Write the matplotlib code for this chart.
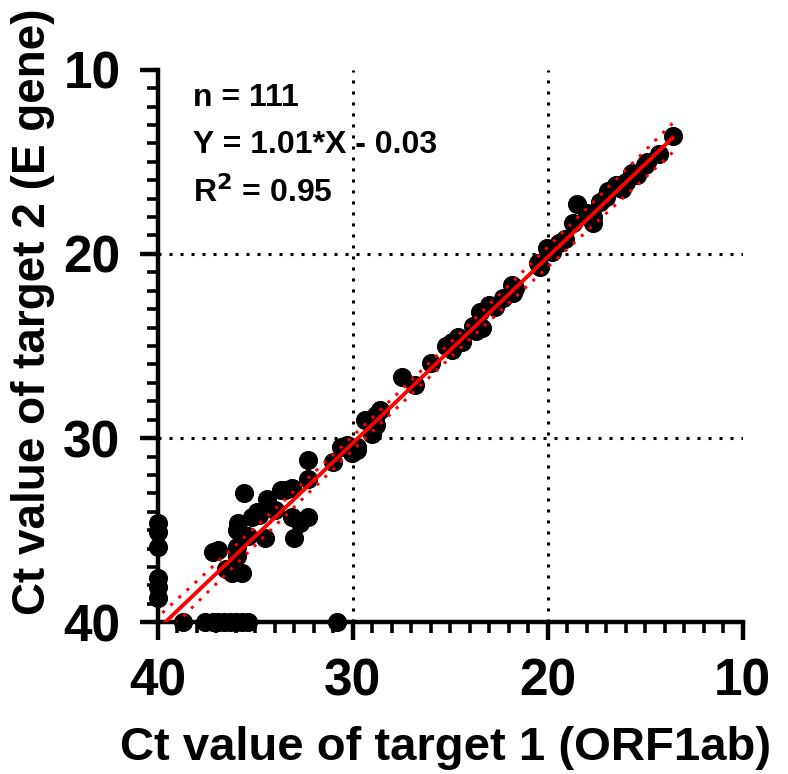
import numpy as np
from matplotlib import pyplot as plt
from matplotlib.ticker import MultipleLocator

plt.rcParams['font.family'] = ['Liberation Sans', 'DejaVu Sans']
plt.rcParams['font.weight'] = 'bold'

# Ct values (target 1 = ORF1ab, target 2 = E gene)
ct_orf1ab = [40, 40, 40, 40, 40, 40,
             38.7, 37.6, 37.2, 36.9, 36.6, 36.3, 36.0, 35.7, 35.4, 30.8,
             37.2, 36.9, 36.5, 36.2, 35.7, 35.95, 35.95, 35.9, 35.95, 35.4,
             35.6, 35.2, 34.8, 34.5, 34.4, 34.3, 33.7, 33.5, 33.1, 33.1,
             32.7, 32.3, 33.0, 32.3, 32.3, 30.6, 30.05, 29.8,
             30.3, 29.8, 29.4, 28.8, 28.8, 29.0, 27.5, 26.8, 26.0,
             24.9, 24.4, 24.9, 23.85, 23.4, 23.7, 23.5, 23.0, 22.7,
             21.85, 21.8, 21.7, 20.4, 20.5, 20.05, 19.4, 19.1,
             18.7, 18.5, 18.0, 17.7, 17.7, 17.3, 16.9, 16.5, 16.2,
             15.7, 15.4, 15.0, 14.9, 14.3, 13.6,
             34.9, 34.0, 31.0, 28.6, 25.2, 24.6, 22.3, 19.8, 17.0, 16.0]
ct_egene = [34.6, 35.1, 35.9, 37.6, 38.1, 38.7,
            40, 40, 40, 40, 40, 40, 40, 40, 40, 40,
            36.2, 36.1, 37.1, 37.3, 37.3, 35.9, 36.4, 34.6, 35.0, 35.3,
            33.0, 34.3, 34.2, 35.4, 33.3, 33.75, 32.8, 32.8, 32.7, 34.3,
            34.6, 34.3, 35.4, 31.2, 32.2, 30.5, 30.8, 30.65,
            30.4, 30.5, 29.0, 28.75, 29.3, 29.8, 26.7, 27.1, 25.9,
            24.8, 24.8, 25.2, 23.9, 24.0, 24.2, 23.15, 22.8, 22.9,
            21.7, 22.1, 21.85, 20.7, 20.5, 19.7, 19.4, 19.2,
            18.3, 17.3, 17.8, 18.3, 18.0, 17.2, 16.6, 16.25, 16.5,
            15.6, 15.7, 15.2, 15.0, 14.6, 13.6,
            34.0, 33.9, 31.3, 28.5, 25.0, 24.5, 22.4, 19.9, 16.9, 16.1]

slope, intercept = 1.01, -0.03
annot_lines = ["n = 111", "Y = 1.01*X - 0.03", r"R$^\mathbf{2}$ = 0.95"]

x = np.array(ct_orf1ab)
y = np.array(ct_egene)

fig = plt.figure(figsize=(7.88, 7.74), dpi=100)
ax = fig.add_axes([0.2005, 0.196, 0.742, 0.714])

# dotted reference grid
for v in (30, 20):
    ax.axvline(v, color='black', ls=(0, (1, 2.6)), lw=2.2, zorder=1)
    ax.axhline(v, color='black', ls=(0, (1, 2.6)), lw=2.2, zorder=1)

ax.scatter(x, y, s=190, color='black', zorder=3, clip_on=False, linewidths=0)

# regression line + 95% confidence band
xs = np.linspace(x.min(), x.max(), 200)
fit = slope * xs + intercept
resid = y - (slope * x + intercept)
n = len(x)
s_err = np.sqrt(np.sum(resid ** 2) / (n - 2))
ci = 1.98 * s_err * np.sqrt(1 / n + (xs - x.mean()) ** 2 / np.sum((x - x.mean()) ** 2))
ax.plot(xs, fit, color='red', lw=2.8, zorder=4)
ax.plot(xs, fit + ci, color='red', ls=(0, (1, 2.6)), lw=2.2, zorder=4)
ax.plot(xs, fit - ci, color='red', ls=(0, (1, 2.6)), lw=2.2, zorder=4)

ax.set_xlim(40, 10)
ax.set_ylim(40, 10)
ax.xaxis.set_major_locator(MultipleLocator(10))
ax.yaxis.set_major_locator(MultipleLocator(10))
ax.xaxis.set_minor_locator(MultipleLocator(1))
ax.yaxis.set_minor_locator(MultipleLocator(1))

for side in ('top', 'right'):
    ax.spines[side].set_visible(False)
for side in ('left', 'bottom'):
    ax.spines[side].set_linewidth(3.2)
ax.tick_params(which='major', length=13, width=3.2, labelsize=37)
ax.tick_params(axis='x', which='major', pad=12)
ax.tick_params(axis='y', which='major', pad=14)
ax.tick_params(which='minor', length=8, width=2.6)

ax.set_xlabel("Ct value of target 1 (ORF1ab)", fontsize=34, fontweight='bold')
ax.set_ylabel("Ct value of target 2 (E gene)", fontsize=33, fontweight='bold')
ax.xaxis.set_label_coords(0.492, -0.228)
ax.yaxis.set_label_coords(-0.214, 0.562)
ax.xaxis.label.set_va('center')
ax.yaxis.label.set_va('center')

for txt, ypos in zip(annot_lines, (0.949, 0.864, 0.777)):
    ax.text(0.06, ypos, txt, transform=ax.transAxes, fontsize=23,
            fontweight='bold', va='center')

fig.savefig("out.png", dpi=100)
